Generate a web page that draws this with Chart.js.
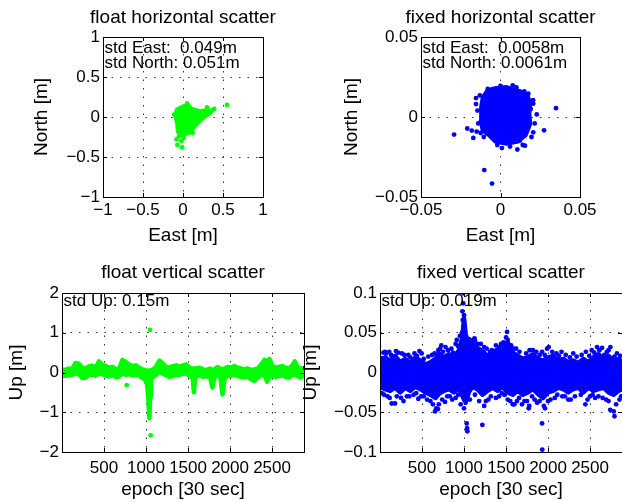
<!DOCTYPE html>
<html>
<head>
<meta charset="utf-8">
<title>float / fixed scatter</title>
<script src="https://cdn.jsdelivr.net/npm/chart.js@4.4.1/dist/chart.umd.min.js"></script>
<style>
  html, body { margin: 0; padding: 0; background: #fff; overflow: hidden; }
  body { width: 622px; height: 502px; position: relative; }
  canvas { position: absolute; }
</style>
</head>
<body>
<canvas id="floatHoriz"></canvas>
<canvas id="fixedHoriz"></canvas>
<canvas id="floatVert"></canvas>
<canvas id="fixedVert"></canvas>
<script>
// --- values ---

const horizFloatTicks = [-1, -0.5, 0, 0.5, 1];
const horizFixedTicks = [-0.05, 0, 0.05];
const epochTicks = [500, 1000, 1500, 2000, 2500];
const upFloatTicks = [-2, -1, 0, 1, 2];
const upFixedTicks = [-0.1, -0.05, 0, 0.05, 0.1];

const floatHorizNotes = ['std East:  0.049m', 'std North: 0.051m'];
const fixedHorizNotes = ['std East:  0.0058m', 'std North: 0.0061m'];
const floatVertNotes = ['std Up: 0.15m'];
const fixedVertNotes = ['std Up: 0.019m'];

// float horizontal: outline of the dense cloud, then the loose points (m)
const floatCloudEast  = [-0.10, -0.08, 0.00, 0.07, 0.11, 0.21, 0.33, 0.38, 0.35, 0.25, 0.17, 0.11, 0.07, -0.02, -0.07, -0.08, -0.10];
const floatCloudNorth = [0.03, 0.10, 0.14, 0.15, 0.11, 0.08, 0.09, 0.09, 0.05, -0.02, -0.10, -0.17, -0.21, -0.23, -0.19, -0.08, 0.00];
const floatLooseEast  = [0.55, 0.39, 0.30, 0.05, -0.11, 0.20, 0.12, -0.05, -0.08, -0.02, -0.07, -0.01, 0.01];
const floatLooseNorth = [0.15, 0.10, 0.12, 0.17, 0.03, -0.05, -0.20, -0.24, -0.28, -0.30, -0.35, -0.38, -0.26];

// fixed horizontal: outline of the dense cloud, then the loose points (m)
const fixedCloudEast  = [-0.0045, 0.0039, 0.0123, 0.0175, 0.0190, 0.0185, 0.0190, 0.0162, 0.0112, 0.0039, -0.0035, -0.0077, -0.0115, -0.0128, -0.0125, -0.0115, -0.0087];
const fixedCloudNorth = [0.0182, 0.0190, 0.0165, 0.0133, 0.0083, 0.0020, -0.0043, -0.0114, -0.0156, -0.0171, -0.0156, -0.0114, -0.0085, -0.0022, 0.0062, 0.0123, 0.0165];
const fixedLooseEast  = [-0.0292, -0.0209, -0.0181, -0.0171, -0.0150, -0.0108, -0.0102, -0.0053, 0.0349, 0.0274, 0.0206, 0.0228, 0.0206, -0.0154, -0.0154, 0.0077, -0.0024, 0.0106, 0.0009, 0.0154, 0.0175, 0.0121,
  0.0150, 0.0205, 0.0215, 0.0195, 0.0140, 0.0060, -0.0020, -0.0105, -0.0140, -0.0145, -0.0130, -0.0080, 0.0000, 0.0100, -0.0125, 0.0190];
const fixedLooseNorth = [-0.0110, -0.0072, -0.0085, -0.0131, -0.0091, -0.0074, -0.0332, -0.0416, 0.0055, -0.0083, -0.0096, 0.0016, 0.0083, 0.0118, 0.0081, 0.0198, 0.0179, -0.0203, -0.0194, -0.0179, 0.0146, -0.0149,
  0.0160, 0.0105, -0.0040, -0.0125, -0.0175, -0.0185, -0.0175, -0.0125, -0.0040, 0.0040, 0.0135, 0.0175, 0.0195, 0.0185, -0.0100, 0.0050];

// float vertical: upper / lower edge of the dense band, then the loose points
const floatEpoch = [0, 40, 80, 120, 160, 200, 240, 280, 320, 360, 400, 440, 480, 520, 560, 600, 640, 680, 720, 760,
  800, 840, 880, 920, 960, 990, 1015, 1030, 1040, 1048, 1058, 1080, 1120, 1160, 1200, 1240, 1280, 1320, 1360, 1400,
  1440, 1480, 1520, 1555, 1570, 1585, 1640, 1680, 1720, 1765, 1790, 1815, 1850, 1885, 1910, 1935, 1970, 2010, 2050, 2090,
  2130, 2170, 2210, 2250, 2290, 2330, 2370, 2410, 2440, 2470, 2500, 2540, 2580, 2620, 2660, 2700, 2740, 2770, 2800, 2840, 2880];
const floatUpHigh = [0.08, 0.06, 0.10, 0.08, 0.24, 0.22, 0.12, 0.10, 0.15, 0.17, 0.12, 0.28, 0.20, 0.16, 0.12, 0.14, 0.08, 0.10, 0.32, 0.26,
  0.20, 0.16, 0.18, 0.12, 0.08, 0.06, 0.05, 0.03, 0.02, 0.04, 0.06, 0.06, 0.15, 0.30, 0.22, 0.14, 0.12, 0.16, 0.18, 0.14,
  0.18, 0.20, 0.12, 0.10, 0.06, 0.10, 0.12, 0.08, 0.06, 0.10, 0.05, 0.08, 0.14, 0.10, 0.06, 0.10, 0.14, 0.12, 0.16, 0.12,
  0.10, 0.08, 0.10, 0.06, 0.08, 0.10, 0.20, 0.32, 0.28, 0.34, 0.18, 0.12, 0.14, 0.16, 0.12, 0.10, 0.18, 0.28, 0.14, 0.10, 0.08];
const floatUpLow = [-0.09, -0.08, -0.07, -0.06, -0.02, -0.04, -0.14, -0.13, -0.06, -0.05, -0.08, -0.02, -0.04, -0.08, -0.10, -0.06, -0.12, -0.10, 0.00, -0.06,
  -0.04, -0.07, -0.06, -0.08, -0.14, -0.18, -0.32, -0.75, -1.15, -0.60, -0.16, -0.12, -0.06, 0.02, -0.03, -0.07, -0.11, -0.09, -0.05, -0.06,
  -0.03, -0.02, -0.09, -0.13, -0.50, -0.12, -0.07, -0.11, -0.09, -0.13, -0.38, -0.11, -0.07, -0.12, -0.55, -0.16, -0.07, -0.09, -0.05, -0.09,
  -0.11, -0.13, -0.11, -0.17, -0.21, -0.13, -0.07, -0.05, -0.23, -0.11, -0.07, -0.11, -0.09, -0.07, -0.11, -0.13, -0.07, -0.03, -0.09, -0.13, -0.07];
const floatLooseEpoch = [770, 1047, 1055];
const floatLooseUp = [-0.32, 1.07, -1.58];

// fixed vertical: upper / lower edge of the dense core
const fixedEpoch = [0, 60, 120, 180, 240, 300, 360, 420, 480, 540, 600, 660, 700, 760, 820, 880, 940, 980, 1000, 1020,
  1060, 1100, 1160, 1220, 1280, 1340, 1400, 1460, 1520, 1580, 1640, 1700, 1760, 1820, 1880, 1940, 2000, 2060, 2120, 2180,
  2240, 2300, 2360, 2420, 2480, 2540, 2600, 2660, 2720, 2780, 2840, 2880];
const fixedUpHigh = [0.012, 0.019, 0.015, 0.021, 0.013, 0.017, 0.012, 0.019, 0.015, 0.010, 0.013, 0.017, 0.024, 0.019, 0.023, 0.019, 0.028, 0.044, 0.068, 0.048,
  0.034, 0.036, 0.031, 0.027, 0.021, 0.025, 0.029, 0.031, 0.038, 0.025, 0.021, 0.017, 0.019, 0.023, 0.017, 0.015, 0.019, 0.021, 0.015, 0.017,
  0.013, 0.015, 0.012, 0.017, 0.013, 0.019, 0.023, 0.017, 0.021, 0.015, 0.017, 0.013];
const fixedUpLow = [-0.018, -0.021, -0.023, -0.019, -0.025, -0.019, -0.023, -0.018, -0.021, -0.025, -0.028, -0.032, -0.027, -0.023, -0.021, -0.025, -0.019, -0.029, -0.034, -0.038,
  -0.024, -0.018, -0.021, -0.028, -0.023, -0.019, -0.023, -0.018, -0.025, -0.028, -0.023, -0.028, -0.025, -0.021, -0.027, -0.032, -0.025, -0.023, -0.019, -0.021,
  -0.025, -0.021, -0.019, -0.025, -0.019, -0.023, -0.021, -0.019, -0.025, -0.028, -0.023, -0.021];
// fixed vertical: points sticking out above the core
const fixedAboveEpoch = [60, 131, 337, 496, 694, 913, 992, 990, 980, 985, 1000, 995, 1005, 975, 1111, 1125, 1310,
  40, 110, 190, 260, 410, 470, 620, 730, 780, 850, 900, 950, 1060, 1130, 1200, 1380, 1440, 1500, 1512, 1520, 1560,
  1620, 1780, 1860, 1929, 1988, 2008, 2100, 2160, 2300, 2450, 2520, 2583, 2643, 2700, 2742, 2820,
  15, 75, 150, 215, 290, 360, 440, 520, 575, 650, 715, 750, 810, 870, 930, 1040, 1080, 1160, 1240, 1270, 1330,
  1420, 1470, 1590, 1660, 1740, 1820, 1900, 1960, 2050, 2130, 2210, 2260, 2340, 2400, 2490, 2550, 2610, 2670, 2720, 2790, 2860];
const fixedAboveUp = [0.026, 0.022, 0.022, 0.024, 0.028, 0.041, 0.0996, 0.087, 0.077, 0.066, 0.072, 0.058, 0.052, 0.050, 0.041, 0.043, 0.026,
  0.025, 0.026, 0.027, 0.024, 0.024, 0.027, 0.022, 0.034, 0.032, 0.030, 0.036, 0.046, 0.042, 0.040, 0.036, 0.034, 0.036, 0.044, 0.051, 0.041, 0.034,
  0.030, 0.028, 0.026, 0.026, 0.030, 0.032, 0.024, 0.026, 0.024, 0.026, 0.028, 0.032, 0.031, 0.026, 0.032, 0.024,
  0.018, 0.024, 0.020, 0.025, 0.022, 0.019, 0.021, 0.017, 0.020, 0.024, 0.030, 0.026, 0.028, 0.025, 0.033, 0.038, 0.040, 0.036, 0.032, 0.030, 0.028,
  0.032, 0.038, 0.030, 0.026, 0.024, 0.028, 0.022, 0.022, 0.026, 0.021, 0.022, 0.019, 0.020, 0.022, 0.021, 0.025, 0.028, 0.022, 0.028, 0.020, 0.021];
// fixed vertical: points sticking out below the core
const fixedBelowEpoch = [20, 90, 139, 179, 250, 320, 400, 456, 520, 600, 655, 670, 700, 774, 830, 900, 960, 1000, 1032, 1036,
  1040, 1180, 1218, 1240, 1290, 1417, 1480, 1550, 1600, 1655, 1720, 1770, 1776, 1840, 1900, 1929, 1931, 1964, 2000, 2080,
  2200, 2270, 2444, 2500, 2560, 2690, 2740, 2782, 2790, 2850,
  50, 115, 200, 280, 350, 430, 490, 560, 630, 690, 740, 800, 860, 930, 1070, 1130, 1260, 1320, 1380, 1450, 1520,
  1580, 1630, 1690, 1750, 1810, 1870, 1950, 2030, 2110, 2170, 2240, 2320, 2390, 2470, 2530, 2600, 2650, 2720, 2810, 2870];
const fixedBelowUp = [-0.026, -0.030, -0.039, -0.039, -0.032, -0.030, -0.028, -0.033, -0.030, -0.036, -0.049, -0.045, -0.040, -0.037, -0.030, -0.032, -0.040, -0.045, -0.064, -0.070,
  -0.074, -0.036, -0.066, -0.042, -0.034, -0.030, -0.028, -0.036, -0.040, -0.032, -0.036, -0.045, -0.042, -0.034, -0.036, -0.064, -0.097, -0.045, -0.036, -0.032,
  -0.030, -0.034, -0.040, -0.030, -0.032, -0.034, -0.047, -0.049, -0.055, -0.034,
  -0.028, -0.032, -0.030, -0.036, -0.030, -0.026, -0.030, -0.034, -0.040, -0.046, -0.034, -0.030, -0.034, -0.028, -0.034, -0.028, -0.036, -0.030, -0.032, -0.026, -0.034,
  -0.040, -0.036, -0.040, -0.036, -0.030, -0.038, -0.042, -0.034, -0.028, -0.030, -0.034, -0.030, -0.028, -0.034, -0.028, -0.030, -0.032, -0.036, -0.040, -0.030];

// --- drawing ---

const FONT = '"Liberation Sans", Arial, Helvetica, sans-serif';
const GREEN = '#00ff00';
const BLUE = '#0000ff';
Chart.defaults.font.family = FONT;
Chart.defaults.color = '#000';

const minus = v => String(v).replace('-', '\u2212');
const pts = (xs, ys) => xs.map((x, i) => ({x: x, y: ys[i]}));
const loop = (xs, ys) => { const p = pts(xs, ys); p.push(p[0]); return p; };

// box round the axes, small inward ticks and the std text
const framePlugin = {
  id: 'frame',
  afterDatasetsDraw(chart, args, opts) {
    const ctx = chart.ctx, a = chart.chartArea;
    const sx = chart.scales.x, sy = chart.scales.y;
    ctx.save();
    ctx.strokeStyle = '#000';
    ctx.lineWidth = 1;
    ctx.beginPath();
    sx.ticks.forEach(t => {
      const p = Math.round(sx.getPixelForValue(t.value)) + 0.5;
      ctx.moveTo(p, a.bottom); ctx.lineTo(p, a.bottom - 4);
      ctx.moveTo(p, a.top); ctx.lineTo(p, a.top + 4);
    });
    sy.ticks.forEach(t => {
      const p = Math.round(sy.getPixelForValue(t.value)) + 0.5;
      ctx.moveTo(a.left, p); ctx.lineTo(a.left + 4, p);
      ctx.moveTo(a.right, p); ctx.lineTo(a.right - 4, p);
    });
    ctx.stroke();
    ctx.strokeRect(Math.round(a.left) + 0.5, Math.round(a.top) + 0.5, Math.round(a.width), Math.round(a.height));
    ctx.font = '17px ' + FONT;
    ctx.fillStyle = '#000';
    ctx.textBaseline = 'alphabetic';
    (opts.lines || []).forEach((s, i) => ctx.fillText(s, a.left + 1.5, a.top + opts.top + i * 15));
    ctx.restore();
  }
};

function axis(min, max, ticks, label, size, pad, vertical) {
  return {
    type: 'linear', min: min, max: max,
    afterBuildTicks: sc => { sc.ticks = ticks.map(v => ({value: v})); },
    afterFit: sc => {
      if (vertical) { sc.width = size; sc.paddingTop = 0; sc.paddingBottom = 0; }
      else { sc.height = size; sc.paddingLeft = 0; sc.paddingRight = 0; }
    },
    ticks: {font: {size: 17}, color: '#000', padding: pad, maxRotation: 0, autoSkip: false, callback: v => minus(v)},
    grid: {color: '#333', lineWidth: 1, drawTicks: false},
    border: {display: false, dash: [1.5, 7]},
    title: {display: true, text: label, font: {size: 19}, color: '#000', padding: 0}
  };
}

// empty right axis, same width as the left one, so the title centres over the plot
function spacer(size) {
  return {
    position: 'right', display: true,
    afterFit: sc => { sc.width = size; sc.paddingTop = 0; sc.paddingBottom = 0; },
    ticks: {display: false}, grid: {display: false}, border: {display: false}
  };
}

function plot(id, s) {
  const cv = document.getElementById(id);
  cv.width = s.yW + s.plotW + s.yW;
  cv.height = s.titleH + s.plotH + s.xH;
  cv.style.left = (s.left - s.yW) + 'px';
  cv.style.top = (s.top - s.titleH) + 'px';
  return new Chart(cv, {
    type: 'scatter',
    data: {datasets: s.datasets},
    options: {
      responsive: false,
      animation: false,
      events: [],
      layout: {padding: 0},
      plugins: {
        legend: {display: false},
        tooltip: {enabled: false},
        title: {
          display: true, text: s.title, color: '#000',
          font: {size: 19, weight: 'normal', lineHeight: 1.2},
          padding: {top: s.titlePad, bottom: s.titleH - s.titlePad - 22.8}
        },
        frame: {lines: s.notes, top: s.noteTop}
      },
      scales: {x: s.x, y: s.y, right: spacer(s.yW)}
    },
    plugins: [framePlugin]
  });
}

const shape = (data, color) => ({type: 'line', data: data, fill: 'shape', backgroundColor: color, borderColor: color,
  borderWidth: 3, borderJoinStyle: 'round', pointRadius: 0, tension: 0});
const edge = (data, color, fill) => ({type: 'line', data: data, fill: fill, backgroundColor: color, borderColor: color,
  borderWidth: 4.5, borderJoinStyle: 'round', borderCapStyle: 'round', pointRadius: 0, tension: 0});
const dots = (data, color) => ({type: 'scatter', data: data, pointRadius: 2.4, pointBackgroundColor: color, pointBorderWidth: 0});

plot('floatHoriz', {
  left: 103, top: 37, plotW: 160, plotH: 160, yW: 73, titleH: 37, titlePad: 6.7, xH: 50,
  title: 'float horizontal scatter', notes: floatHorizNotes, noteTop: 16.3,
  x: axis(-1, 1, horizFloatTicks, 'East [m]', 50, 3, false),
  y: axis(-1, 1, horizFloatTicks, 'North [m]', 73, 3, true),
  datasets: [shape(loop(floatCloudEast, floatCloudNorth), GREEN), dots(pts(floatLooseEast, floatLooseNorth), GREEN)]
});

plot('fixedHoriz', {
  left: 421, top: 37, plotW: 159, plotH: 160, yW: 81, titleH: 37, titlePad: 6.7, xH: 50,
  title: 'fixed horizontal scatter', notes: fixedHorizNotes, noteTop: 16.3,
  x: axis(-0.05, 0.05, horizFixedTicks, 'East [m]', 50, 3, false),
  y: axis(-0.05, 0.05, horizFixedTicks, 'North [m]', 81, 3, true),
  datasets: [shape(loop(fixedCloudEast, fixedCloudNorth), BLUE), dots(pts(fixedLooseEast, fixedLooseNorth), BLUE)]
});

plot('floatVert', {
  left: 62, top: 293, plotW: 242, plotH: 159, yW: 57, titleH: 42, titlePad: 10, xH: 49,
  title: 'float vertical scatter', notes: floatVertNotes, noteTop: 13,
  x: axis(0, 2880, epochTicks, 'epoch [30 sec]', 49, 6, false),
  y: axis(-2, 2, upFloatTicks, 'Up [m]', 57, 3, true),
  datasets: [
    edge(pts(floatEpoch, floatUpHigh), GREEN, '+1'),
    edge(pts(floatEpoch, floatUpLow), GREEN, false),
    dots(pts(floatLooseEpoch, floatLooseUp), GREEN)
  ]
});

plot('fixedVert', {
  left: 380, top: 293, plotW: 242, plotH: 159, yW: 81, titleH: 42, titlePad: 10, xH: 49,
  title: 'fixed vertical scatter', notes: fixedVertNotes, noteTop: 13,
  x: axis(0, 2880, epochTicks, 'epoch [30 sec]', 49, 6, false),
  y: axis(-0.1, 0.1, upFixedTicks, 'Up [m]', 81, 3, true),
  datasets: [
    edge(pts(fixedEpoch, fixedUpHigh), BLUE, '+1'),
    edge(pts(fixedEpoch, fixedUpLow), BLUE, false),
    dots(pts(fixedAboveEpoch, fixedAboveUp), BLUE),
    dots(pts(fixedBelowEpoch, fixedBelowUp), BLUE)
  ]
});
</script>
</body>
</html>
